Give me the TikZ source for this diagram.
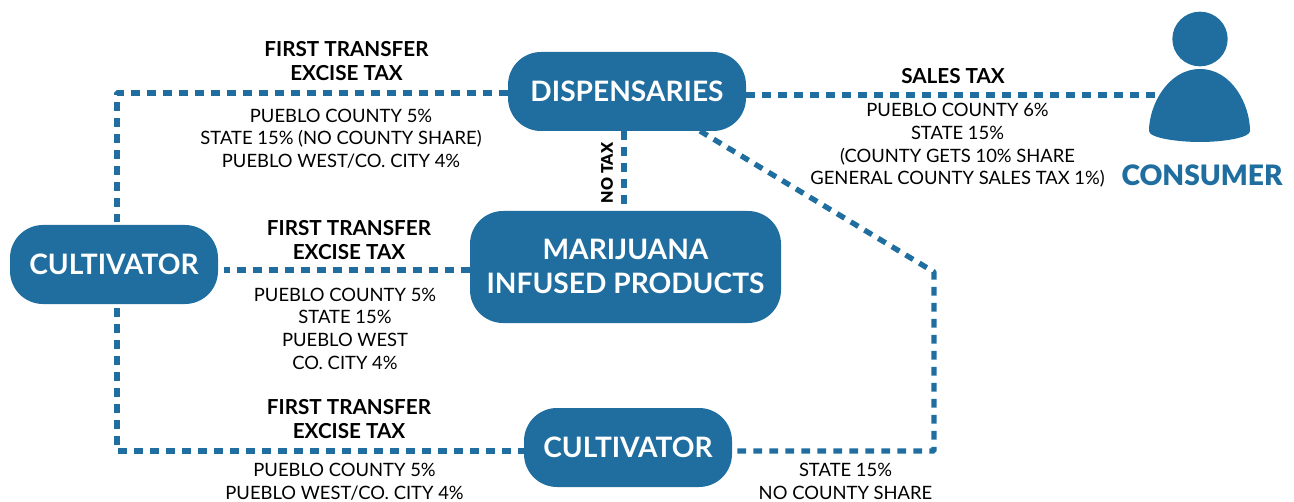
\documentclass[tikz,border=0pt]{standalone}
\usetikzlibrary{shapes.geometric}
\usepackage{fontspec}
\setmainfont{Lato}
\newfontfamily\heavyfont{Lato Black}
\definecolor{taxblue}{HTML}{1F6E9F}
\tikzset{
  box/.style={draw=none,fill=taxblue,rounded corners=24.75pt,text=white,font=\fontsize{21.1}{25.5}\selectfont\bfseries,align=center,inner sep=0pt,minimum height=#1},
  taxline/.style={draw=taxblue,line width=4pt,dash pattern=on 6.6pt off 5.4pt,line join=bevel},
  headtext/.style={font=\fontsize{15.5}{18.7}\selectfont\bfseries,align=center,inner sep=0pt,text=black},
  rates/.style={font=\fontsize{13.8}{17}\selectfont,align=center,inner sep=0pt,text=black},
}
\begin{document}
\begin{tikzpicture}[x=0.75pt,y=-0.75pt]
\useasboundingbox (0,0) rectangle (1294,502);
% nodes
\node[box=59.25pt,minimum width=178.5pt] (disp) at (627,91.5) {DISPENSARIES};
\node[box=59.25pt,minimum width=156pt] (cultl) at (114,264.5) {CULTIVATOR};
\node[box=84pt,minimum width=233.25pt] (mip) at (625.5,267) {\raisebox{1.5pt}{MARIJUANA}\\\raisebox{1.5pt}{INFUSED PRODUCTS}};
\node[box=59.25pt,minimum width=156pt] (cultb) at (628,447.5) {CULTIVATOR};
% consumer
\node[ellipse,fill=taxblue,minimum width=41.5pt,minimum height=41pt,inner sep=0pt,draw=none] (chead) at (1200,39) {};
\path[fill=taxblue] (1149,131) .. controls (1149,105) and (1168,69) .. (1200,69) .. controls (1232,69) and (1250,105) .. (1250,131) .. controls (1250,138) and (1222,142) .. (1200,142) .. controls (1178,142) and (1149,138) .. (1149,131) -- cycle;
\coordinate (cbody) at (1157,95);
\node[inner sep=0pt,text=taxblue,font=\heavyfont\fontsize{21.1}{25}\selectfont] (cons) at (1202,175) {CONSUMER};
% corners and levels
\coordinate (tl) at (117,93);
\coordinate (bl) at (117,451);
\coordinate (dr) at (934,272);
\coordinate (br) at (934,451);
\coordinate (dd) at (700,131);
\coordinate (sl) at (746,95);
\coordinate (nt) at (624,131);
\coordinate (mi) at (470,270);
% connectors
\draw[taxline] (disp.west |- tl) -- (tl) -- ([yshift=2.25pt]tl |- cultl.north);
\draw[taxline] (sl) -- (cbody);
\draw[taxline] (nt) -- (nt |- mip.north);
\draw[taxline] (dd) -- (dr) -- (br) -- ([xshift=3pt]cultb.east |- br);
\draw[taxline] (mi) -- ([xshift=4.5pt]cultl.east |- mi);
\draw[taxline] ([yshift=-3pt]bl |- cultl.south) -- (bl) -- (cultb.west |- bl);
% labels
\node[headtext] (h1) at (346.5,61) {FIRST TRANSFER\\EXCISE TAX};
\node[rates] (r1) at (341,138.5) {PUEBLO COUNTY 5\%\\STATE 15\% (NO COUNTY SHARE)\\PUEBLO WEST/CO. CITY 4\%};
\node[headtext] (h2) at (349,240) {FIRST TRANSFER\\EXCISE TAX};
\node[rates] (r2) at (345,328.5) {PUEBLO COUNTY 5\%\\STATE 15\%\\PUEBLO WEST\\CO. CITY 4\%};
\node[headtext] (h3) at (349,419) {FIRST TRANSFER\\EXCISE TAX};
\node[rates] (r3) at (344.5,481.5) {PUEBLO COUNTY 5\%\\PUEBLO WEST/CO. CITY 4\%};
\node[headtext] (h4) at (953,76) {SALES TAX};
\node[rates] (r4) at (957.5,145.5) {PUEBLO COUNTY 6\%\\STATE 15\%\\(COUNTY GETS 10\% SHARE\\GENERAL COUNTY SALES TAX 1\%)};
\node[rates] (r5) at (845.5,481.5) {STATE 15\%\\NO COUNTY SHARE};
\node[font=\heavyfont\fontsize{12}{14}\selectfont,rotate=90,inner sep=0pt] (notax) at (607,173) {NO TAX};
\end{tikzpicture}
\end{document}
